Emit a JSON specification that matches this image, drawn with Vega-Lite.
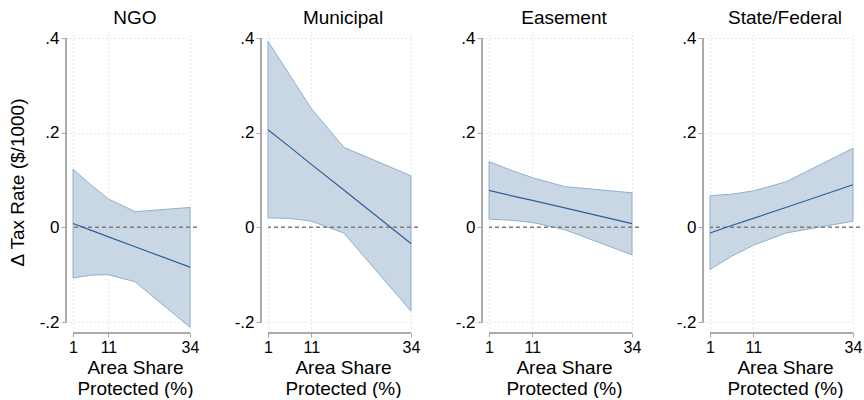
{
  "$schema": "https://vega.github.io/schema/vega-lite/v6.json",
  "padding": {"left": 8, "top": 9, "right": 0, "bottom": 0},
  "background": "white",
  "datasets": {
    "d": [
      {"panel": "NGO", "x": 1, "est": 0.008, "lo": -0.107, "hi": 0.123},
      {"panel": "NGO", "x": 6, "est": -0.006, "lo": -0.101, "hi": 0.090},
      {"panel": "NGO", "x": 11, "est": -0.020, "lo": -0.100, "hi": 0.060},
      {"panel": "NGO", "x": 18.5, "est": -0.041, "lo": -0.115, "hi": 0.033},
      {"panel": "NGO", "x": 34, "est": -0.084, "lo": -0.211, "hi": 0.042},
      {"panel": "Municipal", "x": 1, "est": 0.206, "lo": 0.020, "hi": 0.393},
      {"panel": "Municipal", "x": 6, "est": 0.170, "lo": 0.019, "hi": 0.322},
      {"panel": "Municipal", "x": 11, "est": 0.133, "lo": 0.013, "hi": 0.251},
      {"panel": "Municipal", "x": 18.5, "est": 0.079, "lo": -0.012, "hi": 0.169},
      {"panel": "Municipal", "x": 34, "est": -0.034, "lo": -0.177, "hi": 0.109},
      {"panel": "Easement", "x": 1, "est": 0.078, "lo": 0.0175, "hi": 0.139},
      {"panel": "Easement", "x": 6, "est": 0.067, "lo": 0.015, "hi": 0.121},
      {"panel": "Easement", "x": 11, "est": 0.057, "lo": 0.0105, "hi": 0.105},
      {"panel": "Easement", "x": 18.5, "est": 0.041, "lo": -0.005, "hi": 0.086},
      {"panel": "Easement", "x": 34, "est": 0.008, "lo": -0.058, "hi": 0.073},
      {"panel": "State/Federal", "x": 1, "est": -0.012, "lo": -0.089, "hi": 0.067},
      {"panel": "State/Federal", "x": 6, "est": 0.004, "lo": -0.061, "hi": 0.070},
      {"panel": "State/Federal", "x": 11, "est": 0.019, "lo": -0.038, "hi": 0.077},
      {"panel": "State/Federal", "x": 18.5, "est": 0.042, "lo": -0.012, "hi": 0.096},
      {"panel": "State/Federal", "x": 34, "est": 0.090, "lo": 0.013, "hi": 0.167}
    ]
  },
  "config": {
    "view": {"stroke": null},
    "font": "Liberation Sans",
    "axis": {
      "domain": false,
      "tickColor": "#a8a8a8",
      "labelColor": "#000000",
      "labelFontSize": 17,
      "titleFontSize": 19,
      "titleFontWeight": "normal",
      "titleColor": "#000000",
      "gridDash": [1, 3],
      "gridWidth": 1
    },
    "axisX": {"tickSize": 4, "labelPadding": 2, "titlePadding": 3, "labelFlush": false, "labelFontSize": 16},
    "axisY": {"tickSize": 5, "offset": 7, "labelPadding": 2, "titlePadding": 12},
    "title": {"fontSize": 19, "fontWeight": "normal", "color": "#000000", "offset": 1, "font": "Liberation Sans"}
  },
  "spacing": 71,
  "bounds": "flush",
  "hconcat": [
    {
      "width": 124, "height": 302,
      "title": "NGO",
      "data": {"name": "d"},
      "transform": [{"filter": "datum.panel === 'NGO'"}],
      "layer": [
        {
          "mark": {"type": "area", "fill": "#c9d7e4", "stroke": "#8fafcc", "strokeWidth": 1},
          "encoding": {
            "x": {"field": "x", "type": "quantitative", "scale": {"domain": [1, 35.97], "nice": false, "zero": false},
                  "axis": {"values": [1, 11, 34], "title": ["Area Share", "Protected (%)"], "gridColor": "#d0d0d0"}},
            "y": {"field": "lo", "type": "quantitative", "scale": {"domain": [-0.2232, 0.4148], "nice": false, "zero": false},
                  "axis": {"values": [-0.2, 0, 0.2, 0.4], "title": "Δ Tax Rate ($/1000)",
                           "labelExpr": "datum.value > 0.3 ? '.4' : datum.value > 0.1 ? '.2' : datum.value > -0.1 ? '0' : '-.2'",
                           "gridColor": {"condition": {"test": "datum.value === 0", "value": "transparent"}, "value": "#d0d0d0"}}},
            "y2": {"field": "hi"}
          }
        },
        {
          "mark": {"type": "rule", "color": "#808080", "strokeDash": [4, 3], "strokeWidth": 1},
          "encoding": {"y": {"datum": 0}}
        },
        {
          "mark": {"type": "line", "color": "#2f5f98", "strokeWidth": 1.2},
          "encoding": {
            "x": {"field": "x", "type": "quantitative"},
            "y": {"field": "est", "type": "quantitative"}
          }
        },
        {
          "mark": {"type": "rule", "color": "#a8a8a8", "strokeWidth": 1},
          "encoding": {"x": {"datum": 1}, "x2": {"datum": 34}, "y": {"datum": -0.2232}}
        },
        {
          "mark": {"type": "rule", "color": "#a8a8a8", "strokeWidth": 1},
          "encoding": {"x": {"datum": -0.974}, "y": {"datum": 0.4}, "y2": {"datum": -0.2}}
        }
      ]
    },
    {
      "width": 150, "height": 302,
      "title": "Municipal",
      "data": {"name": "d"},
      "transform": [{"filter": "datum.panel === 'Municipal'"}],
      "layer": [
        {
          "mark": {"type": "area", "fill": "#c9d7e4", "stroke": "#8fafcc", "strokeWidth": 1},
          "encoding": {
            "x": {"field": "x", "type": "quantitative", "scale": {"domain": [1, 35.62], "nice": false, "zero": false},
                  "axis": {"values": [1, 11, 34], "title": ["Area Share", "Protected (%)"], "gridColor": "#d0d0d0"}},
            "y": {"field": "lo", "type": "quantitative", "scale": {"domain": [-0.2232, 0.4148], "nice": false, "zero": false},
                  "axis": {"values": [-0.2, 0, 0.2, 0.4], "title": null,
                           "labelExpr": "datum.value > 0.3 ? '.4' : datum.value > 0.1 ? '.2' : datum.value > -0.1 ? '0' : '-.2'",
                           "gridColor": {"condition": {"test": "datum.value === 0", "value": "transparent"}, "value": "#d0d0d0"}}},
            "y2": {"field": "hi"}
          }
        },
        {
          "mark": {"type": "rule", "color": "#808080", "strokeDash": [4, 3], "strokeWidth": 1},
          "encoding": {"y": {"datum": 0}}
        },
        {
          "mark": {"type": "line", "color": "#2f5f98", "strokeWidth": 1.2},
          "encoding": {
            "x": {"field": "x", "type": "quantitative"},
            "y": {"field": "est", "type": "quantitative"}
          }
        },
        {
          "mark": {"type": "rule", "color": "#a8a8a8", "strokeWidth": 1},
          "encoding": {"x": {"datum": 1}, "x2": {"datum": 34}, "y": {"datum": -0.2232}}
        },
        {
          "mark": {"type": "rule", "color": "#a8a8a8", "strokeWidth": 1},
          "encoding": {"x": {"datum": -0.615}, "y": {"datum": 0.4}, "y2": {"datum": -0.2}}
        }
      ]
    },
    {
      "width": 150, "height": 302,
      "title": "Easement",
      "data": {"name": "d"},
      "transform": [{"filter": "datum.panel === 'Easement'"}],
      "layer": [
        {
          "mark": {"type": "area", "fill": "#c9d7e4", "stroke": "#8fafcc", "strokeWidth": 1},
          "encoding": {
            "x": {"field": "x", "type": "quantitative", "scale": {"domain": [1, 35.62], "nice": false, "zero": false},
                  "axis": {"values": [1, 11, 34], "title": ["Area Share", "Protected (%)"], "gridColor": "#d0d0d0"}},
            "y": {"field": "lo", "type": "quantitative", "scale": {"domain": [-0.2232, 0.4148], "nice": false, "zero": false},
                  "axis": {"values": [-0.2, 0, 0.2, 0.4], "title": null,
                           "labelExpr": "datum.value > 0.3 ? '.4' : datum.value > 0.1 ? '.2' : datum.value > -0.1 ? '0' : '-.2'",
                           "gridColor": {"condition": {"test": "datum.value === 0", "value": "transparent"}, "value": "#d0d0d0"}}},
            "y2": {"field": "hi"}
          }
        },
        {
          "mark": {"type": "rule", "color": "#808080", "strokeDash": [4, 3], "strokeWidth": 1},
          "encoding": {"y": {"datum": 0}}
        },
        {
          "mark": {"type": "line", "color": "#2f5f98", "strokeWidth": 1.2},
          "encoding": {
            "x": {"field": "x", "type": "quantitative"},
            "y": {"field": "est", "type": "quantitative"}
          }
        },
        {
          "mark": {"type": "rule", "color": "#a8a8a8", "strokeWidth": 1},
          "encoding": {"x": {"datum": 1}, "x2": {"datum": 34}, "y": {"datum": -0.2232}}
        },
        {
          "mark": {"type": "rule", "color": "#a8a8a8", "strokeWidth": 1},
          "encoding": {"x": {"datum": -0.615}, "y": {"datum": 0.4}, "y2": {"datum": -0.2}}
        }
      ]
    },
    {
      "width": 150, "height": 302,
      "title": "State/Federal",
      "data": {"name": "d"},
      "transform": [{"filter": "datum.panel === 'State/Federal'"}],
      "layer": [
        {
          "mark": {"type": "area", "fill": "#c9d7e4", "stroke": "#8fafcc", "strokeWidth": 1},
          "encoding": {
            "x": {"field": "x", "type": "quantitative", "scale": {"domain": [1, 35.62], "nice": false, "zero": false},
                  "axis": {"values": [1, 11, 34], "title": ["Area Share", "Protected (%)"], "gridColor": "#d0d0d0"}},
            "y": {"field": "lo", "type": "quantitative", "scale": {"domain": [-0.2232, 0.4148], "nice": false, "zero": false},
                  "axis": {"values": [-0.2, 0, 0.2, 0.4], "title": null,
                           "labelExpr": "datum.value > 0.3 ? '.4' : datum.value > 0.1 ? '.2' : datum.value > -0.1 ? '0' : '-.2'",
                           "gridColor": {"condition": {"test": "datum.value === 0", "value": "transparent"}, "value": "#d0d0d0"}}},
            "y2": {"field": "hi"}
          }
        },
        {
          "mark": {"type": "rule", "color": "#808080", "strokeDash": [4, 3], "strokeWidth": 1},
          "encoding": {"y": {"datum": 0}}
        },
        {
          "mark": {"type": "line", "color": "#2f5f98", "strokeWidth": 1.2},
          "encoding": {
            "x": {"field": "x", "type": "quantitative"},
            "y": {"field": "est", "type": "quantitative"}
          }
        },
        {
          "mark": {"type": "rule", "color": "#a8a8a8", "strokeWidth": 1},
          "encoding": {"x": {"datum": 1}, "x2": {"datum": 34}, "y": {"datum": -0.2232}}
        },
        {
          "mark": {"type": "rule", "color": "#a8a8a8", "strokeWidth": 1},
          "encoding": {"x": {"datum": -0.615}, "y": {"datum": 0.4}, "y2": {"datum": -0.2}}
        }
      ]
    }
  ]
}
